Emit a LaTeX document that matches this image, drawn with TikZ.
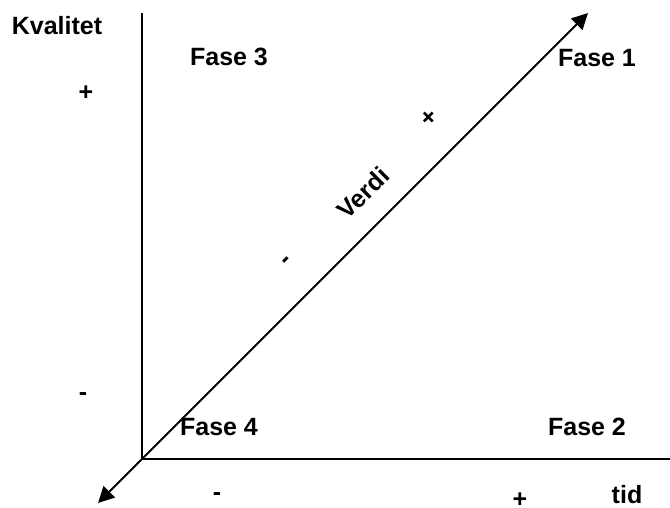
\documentclass[tikz,border=0pt]{standalone}
\usepackage{fontspec}
\setmainfont{Liberation Sans}
\usetikzlibrary{arrows.meta}

\begin{document}
\begin{tikzpicture}[
  axis/.style={black,line width=1.8pt},
  value/.style={{Triangle[length=16pt,width=16pt]}-{Triangle[length=16pt,width=16pt]},black,line width=1.8pt},
  every node/.style={font=\bfseries\fontsize{25}{30}\selectfont,inner sep=0pt},
  slant/.style={rotate=45},
  x=1pt,y=-1pt
]
  \useasboundingbox (0,0) rectangle (670,508);
  % axes
  \coordinate (o) at (142,459);
  \coordinate (ytop) at (142,13);
  \coordinate (xend) at (670,459);
  \coordinate (vlo) at (98,503);
  \coordinate (vhi) at (588,13);
  \draw[axis] (o) -- (ytop);
  \draw[axis] (o) -- (xend);
  \draw[value] (vlo) -- (vhi);
  % axis titles
  \node (kval) at (57,26) {Kvalitet};
  \node (tid) at (627,495) {tid};
  % phases
  \foreach \n/\t/\xx/\yy in {f1/Fase 1/597/58,f2/Fase 2/587/427,f3/Fase 3/229/57,f4/Fase 4/219/427}
    \node (\n) at (\xx,\yy) {\t};
  % signs on the axes
  \foreach \n/\t/\xx/\yy in {qp/+/86/93,qm/-/83/397,tm/-/217/497,tp/+/520/500}
    \node (\n) at (\xx,\yy) {\t};
  % value diagonal
  \node[slant] (verdi) at (363,193) {Verdi};
  \node[slant] (vp) at (429,118) {+};
  \node[slant] (vm) at (288,262) {-};
\end{tikzpicture}
\end{document}
